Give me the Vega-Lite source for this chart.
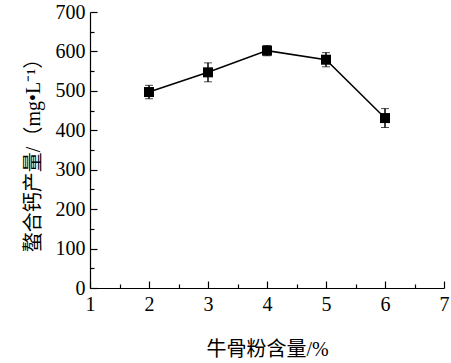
{
  "$schema": "https://vega.github.io/schema/vega-lite/v6.json",
  "width": 354,
  "height": 276,
  "autosize": "none",
  "padding": {"left": 90, "top": 12, "right": 7, "bottom": 75},
  "background": "white",
  "config": {
    "view": {"stroke": null},
    "font": "Liberation Serif",
    "axis": {
      "domainColor": "black",
      "domainWidth": 1.2,
      "tickColor": "black",
      "tickWidth": 1.2,
      "grid": false,
      "labelFont": "Liberation Serif",
      "labelFontSize": 20,
      "labelColor": "black",
      "labelOverlap": false,
      "titleFont": "Liberation Serif, Noto Sans CJK SC",
      "titleFontSize": 20,
      "titleFontWeight": "normal",
      "titleColor": "black"
    }
  },
  "data": {
    "values": [
      {"x": 2, "y": 497, "err": 17},
      {"x": 3, "y": 547, "err": 24},
      {"x": 4, "y": 602, "err": 13},
      {"x": 5, "y": 579, "err": 18},
      {"x": 6, "y": 431, "err": 24}
    ]
  },
  "resolve": {"axis": {"x": "independent", "y": "independent"}},
  "layer": [
    {
      "mark": {"type": "errorbar", "ticks": {"size": 8, "color": "black", "strokeWidth": 1.5}, "rule": {"color": "black", "strokeWidth": 1.5}},
      "encoding": {
        "x": {
          "field": "x", "type": "quantitative",
          "scale": {"domain": [1, 7], "nice": false, "zero": false},
          "axis": null
        },
        "y": {
          "field": "y", "type": "quantitative",
          "scale": {"domain": [0, 700], "nice": false},
          "axis": null
        },
        "yError": {"field": "err"}
      }
    },
    {
      "mark": {"type": "line", "color": "black", "strokeWidth": 1.5},
      "encoding": {
        "x": {
          "field": "x", "type": "quantitative",
          "axis": {
            "orient": "bottom",
            "title": "牛骨粉含量/%",
            "values": [1, 2, 3, 4, 5, 6, 7],
            "format": "d",
            "tickSize": -7,
            "labelPadding": 13,
            "titlePadding": 25,
            "labelFlush": false
          }
        },
        "y": {
          "field": "y", "type": "quantitative",
          "axis": {
            "orient": "left",
            "title": "螯合钙产量/（mg•L⁻¹）",
            "values": [0, 100, 200, 300, 400, 500, 600, 700],
            "format": "d",
            "tickSize": -7,
            "labelPadding": 12,
            "titlePadding": 12,
            "labelFlush": false
          }
        }
      }
    },
    {
      "mark": {"type": "point", "shape": "square", "filled": true, "color": "black", "size": 100, "opacity": 1},
      "encoding": {
        "x": {
          "field": "x", "type": "quantitative",
          "axis": {
            "orient": "bottom", "title": null, "labels": false, "domain": false,
            "values": [1.5, 2.5, 3.5, 4.5, 5.5, 6.5],
            "tickSize": -4
          }
        },
        "y": {
          "field": "y", "type": "quantitative",
          "axis": {
            "orient": "left", "title": null, "labels": false, "domain": false,
            "values": [50, 150, 250, 350, 450, 550, 650],
            "tickSize": -4
          }
        }
      }
    }
  ]
}
